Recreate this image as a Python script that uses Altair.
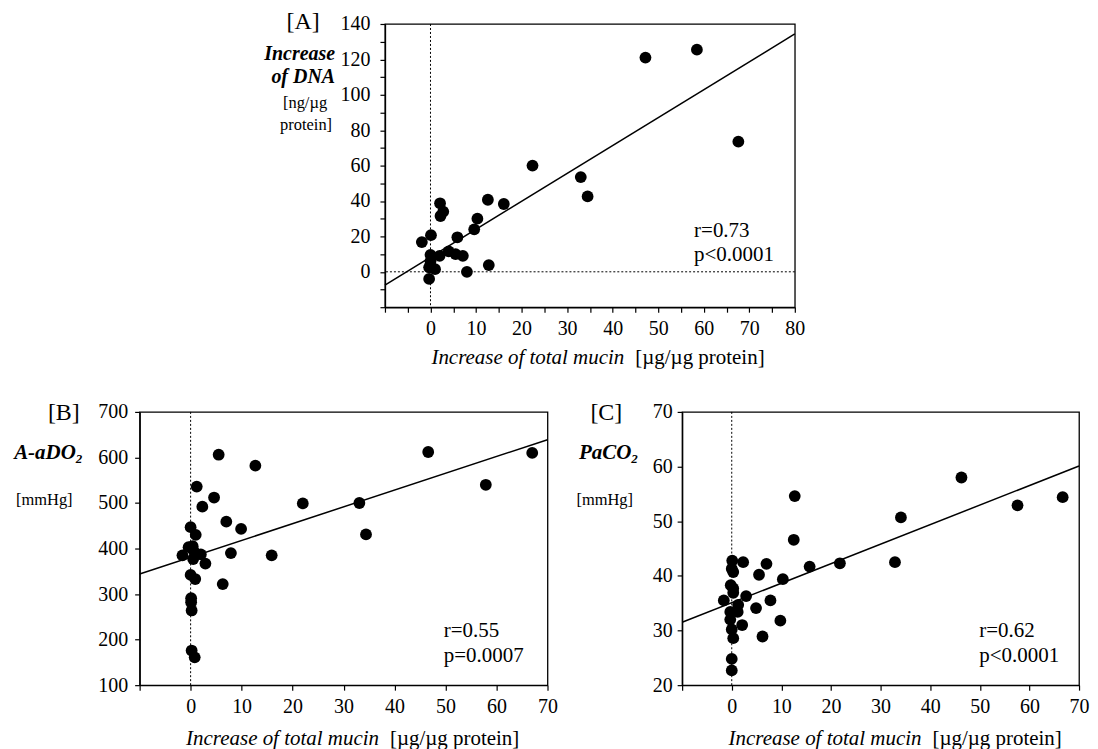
import altair as alt
import pandas as pd

FONT = "Liberation Serif"

# ---------------- data ----------------
# Panel A: Increase of DNA vs increase of total mucin
a_x = [47.2, 58.5, 67.6, 22.4, 33.0, 34.5, 12.6, 16.1, 2.1, 2.8, 2.2, 10.3, 9.6, 5.9,
       0.1, -1.9, 0.0, 2.0, 4.0, 5.5, 7.1, 0.0, -0.3, 1.0, -0.3, 8.0, 12.8]
a_y = [121.0, 125.5, 73.5, 60.0, 53.5, 42.6, 40.7, 38.3, 38.7, 34.0, 31.5, 30.0, 24.0, 19.5,
       20.7, 16.8, 9.6, 9.0, 11.5, 10.0, 9.0, 6.0, 2.5, 1.5, -4.0, 0.0, 3.8]
a_fit_x = [-10, 80]
a_fit_y = [-7.5, 134.4]

# Panel B: A-aDO2
b_x = [5.5, 12.7, 46.6, 67.0, 57.9, 1.2, 4.6, 2.3, 22.0, 33.1, 34.4, 7.0, 9.9, 0.0, 1.0,
       -0.4, 0.4, -1.6, 2.0, 0.5, 2.9, 7.9, 15.9, 0.0, 0.9, 6.3, 0.1, 0.1, 0.2, 0.2, 0.8, 0.6]
b_y = [606, 582, 612, 610, 540, 536, 512, 492, 499, 500, 431, 459, 443, 447, 430,
       403, 405, 385, 387, 377, 367, 390, 385, 342, 333, 322, 291, 282, 264, 176, 161, 395]
b_fit_x = [-10, 70]
b_fit_y = [344, 639]

# Panel C: PaCO2
c_x = [46.3, 66.7, 57.6, 12.7, 12.5, 34.1, 32.9, 21.8, 15.7, 10.3, 7.0, 5.5, 2.3, 0.1, 0.0,
       0.3, -0.2, 0.3, 0.3, -1.6, 2.9, 7.8, 4.9, 1.3, -0.3, 1.2, -0.3, 9.8, 2.1, 0.0, 0.3,
       6.2, 0.0, 0.0]
c_y = [58.0, 54.4, 52.9, 54.6, 46.6, 50.7, 42.5, 42.3, 41.7, 39.4, 42.2, 40.2, 42.5, 42.8, 41.3,
       40.7, 38.3, 37.7, 36.9, 35.5, 36.3, 35.5, 34.1, 34.7, 33.4, 33.4, 32.0, 31.8, 31.0, 30.2, 28.6,
       28.9, 24.8, 22.7]
c_fit_x = [-10, 70]
c_fit_y = [31.5, 60.1]

stats_a = ["r=0.73", "p<0.0001"]
stats_b = ["r=0.55", "p=0.0007"]
stats_c = ["r=0.62", "p<0.0001"]
x_title_main = "Increase of total mucin"
x_title_unit = "[µg/µg protein]"


def axis(values, label_step, **kw):
    return alt.Axis(
        values=values, title=None, grid=False,
        labelExpr=f"datum.value >= 0 && datum.value % {label_step} == 0 ? datum.label : ''",
        labelOverlap=False, labelFlush=False,
        labelFont=FONT, labelFontSize=20, labelColor="black",
        domainColor="black", domainWidth=1.4, tickColor="black", tickWidth=1.2,
        tickSize=5, **kw)


def label(text, dx, dy, size=18, style="normal", weight="normal", align="left"):
    return alt.Chart(pd.DataFrame({"t": [text]})).mark_text(
        font=FONT, fontSize=size, fontStyle=style, fontWeight=weight,
        align=align, baseline="middle", color="black",
    ).encode(x=alt.value(dx), y=alt.value(dy), text="t:N")


def panel(xs, ys, fx, fy, xdom, ydom, xvals, xstep, yvals, ystep, w, h,
          texts, ypad, hline=False):
    xs_ = alt.Scale(domain=xdom, nice=False, zero=False)
    ys_ = alt.Scale(domain=ydom, nice=False, zero=False)
    xe = alt.X("x:Q", scale=xs_, axis=axis(xvals, xstep, labelPadding=6))
    ye = alt.Y("y:Q", scale=ys_, axis=axis(yvals, ystep, labelPadding=ypad))
    pts = alt.Chart(pd.DataFrame({"x": xs, "y": ys})).mark_circle(
        size=140, color="black", opacity=1).encode(x=xe, y=ye)
    fit = alt.Chart(pd.DataFrame({"x": fx, "y": fy})).mark_line(
        color="black", strokeWidth=1.5).encode(x=xe, y=ye)
    vrule = alt.Chart(pd.DataFrame({"x": [0]})).mark_rule(
        color="black", strokeWidth=1, strokeDash=[2, 2]).encode(x=xe)
    layers = [vrule]
    if hline:
        hrule = alt.Chart(pd.DataFrame({"y": [0]})).mark_rule(
            color="black", strokeWidth=1, strokeDash=[2, 2]).encode(y=ye)
        layers.append(hrule)
    layers += [fit, pts] + texts
    return alt.layer(*layers).properties(width=w, height=h)


# ---------------- panel A ----------------
WA, HA = 411, 284
texts_a = [
    label("[A]", -82, -2, size=24, align="center"),
    label("Increase", -50, 30, size=20, style="italic", weight="bold", align="right"),
    label("of DNA", -50, 53, size=20, style="italic", weight="bold", align="right"),
    label("[ng/µg", -58, 79, size=16.5, align="right"),
    label("protein]", -53, 101, size=16.5, align="right"),
    label(stats_a[0], 310, 208, size=21),
    label(stats_a[1], 310, 232, size=21),
    label(x_title_main, 240, HA + 51, size=21, style="italic", align="right"),
    label(x_title_unit, 251, HA + 51, size=21),
]
chart_a = panel(a_x, a_y, a_fit_x, a_fit_y, [-10, 80], [-20, 140],
                list(range(-10, 81, 5)), 10, list(range(-20, 141, 10)), 20,
                WA, HA, texts_a, ypad=10, hline=True)

# ---------------- panel B ----------------
WB, HB = 409, 274
texts_b = [
    label("[B]", -76, 1, size=24, align="center"),
    label("A-aDO", -64, 41, size=21, style="italic", weight="bold", align="right"),
    label("2", -64, 47, size=13, style="italic", weight="bold"),
    label("[mmHg]", -124, 88, size=16.5),
    label(stats_b[0], 305, 220, size=21),
    label(stats_b[1], 305, 245, size=21),
    label(x_title_main, 240, HB + 54, size=21, style="italic", align="right"),
    label(x_title_unit, 251, HB + 54, size=21),
]
chart_b = panel(b_x, b_y, b_fit_x, b_fit_y, [-10, 70], [100, 700],
                list(range(-10, 71, 10)), 10, list(range(100, 701, 100)), 100,
                WB, HB, texts_b, ypad=7)

# ---------------- panel C ----------------
WC, HC = 398, 274
texts_c = [
    label("[C]", -76, 1, size=24, align="center"),
    label("PaCO", -51, 41, size=21, style="italic", weight="bold", align="right"),
    label("2", -51, 47, size=13, style="italic", weight="bold"),
    label("[mmHg]", -106, 88, size=16.5),
    label(stats_c[0], 298, 220, size=21),
    label(stats_c[1], 298, 245, size=21),
    label(x_title_main, 240, HC + 54, size=21, style="italic", align="right"),
    label(x_title_unit, 251, HC + 54, size=21),
]
chart_c = panel(c_x, c_y, c_fit_x, c_fit_y, [-10, 70], [20, 70],
                list(range(-10, 71, 10)), 10, list(range(20, 71, 10)), 10,
                WC, HC, texts_c, ypad=5)

spacer = alt.Chart(pd.DataFrame({"t": [0]})).mark_point(opacity=0).encode(
    x=alt.value(0), y=alt.value(0)
).properties(width=246, height=HA, view=alt.ViewBackground(stroke=None))

row1 = alt.hconcat(spacer, chart_a, spacing=0, bounds="flush")
row2 = alt.hconcat(chart_b, chart_c, spacing=135, bounds="flush")

chart = alt.vconcat(row1, row2, spacing=HA + 105, bounds="flush").properties(
    padding={"left": 5, "top": 0, "right": 0, "bottom": 0},
    background="white",
).configure_view(stroke="black", strokeWidth=1.3)

chart.save("out.html", embed_options={"renderer": "svg", "actions": False})
